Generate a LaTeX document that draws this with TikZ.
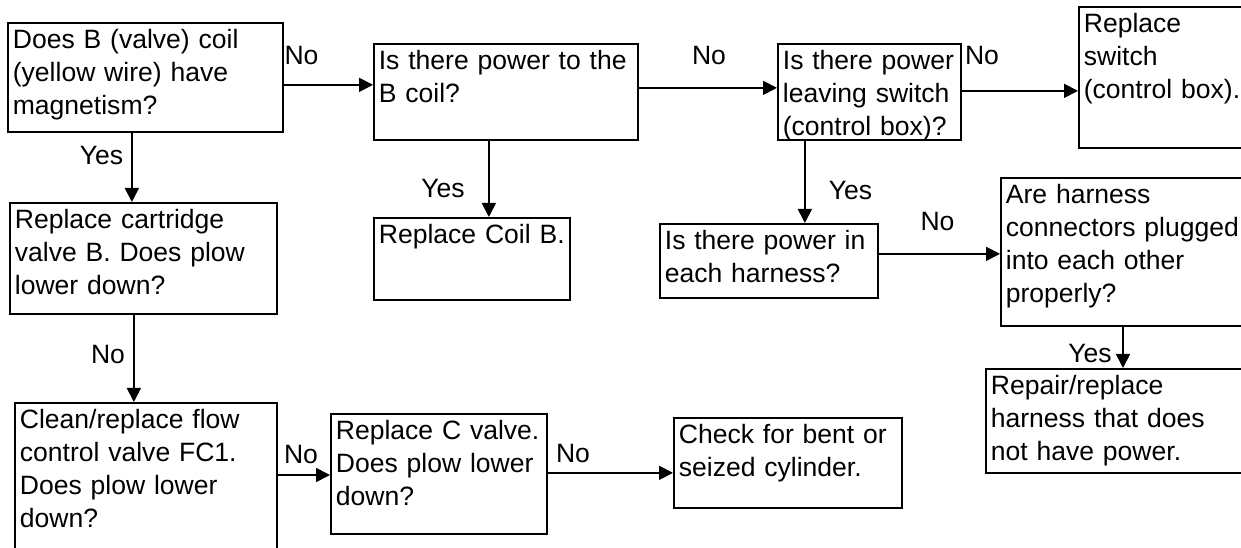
\documentclass[tikz,border=0pt]{standalone}
\usepackage{fontspec}
\setmainfont{Liberation Sans}
\usetikzlibrary{arrows.meta}

\newlength{\unitpx}
\setlength{\unitpx}{0.75pt}

\tikzset{
  qbox/.style 2 args={draw, anchor=north west, align=left,
    inner xsep=5\unitpx, inner ysep=0pt, text height=26\unitpx,
    text width=\dimexpr#1\unitpx-10\unitpx\relax,
    text depth=\dimexpr#2\unitpx-26\unitpx\relax},
  answer/.style={inner sep=0pt},
  flow/.style={-{Triangle[length=10.5pt,width=10.5pt]}}
}

\begin{document}
\begin{tikzpicture}[x=0.75pt, y=-0.75pt, line width=1.3pt,
    font=\fontsize{19.9pt}{24.75pt}\selectfont]

  \useasboundingbox (0,0) rectangle (1241,548);

  % boxes (pixel coordinates, y grows downwards)
  \node[qbox={275}{109}] (magnet) at (7,22)
    {Does B (valve) coil\\(yellow wire) have\\magnetism?};
  \node[qbox={264}{96}] (coilpower) at (373,43)
    {Is there power to the\\B coil?};
  \node[qbox={183}{96}] (switchout) at (777,43)
    {Is there power\\leaving switch\\(control box)?};
  \node[qbox={172}{141}] (repswitch) at (1078,6)
    {Replace\\switch\\(control box).};
  \node[qbox={267}{111}] (cartridge) at (9,202)
    {Replace cartridge\\valve B. Does plow\\lower down?};
  \node[qbox={196}{82}] (repcoil) at (373,217)
    {Replace Coil B.};
  \node[qbox={218}{74}] (harnesspow) at (659,223)
    {Is there power in\\each harness?};
  \node[qbox={250}{148}] (plugged) at (1000,177)
    {Are harness\\connectors plugged\\into each other\\properly?};
  \node[qbox={265}{104}] (repharness) at (985,368)
    {Repair/replace\\harness that does\\not have power.};
  \node[qbox={262}{160}] (flowvalve) at (14,402)
    {Clean/replace flow\\control valve FC1.\\Does plow lower\\down?};
  \node[qbox={216}{120}] (cvalve) at (330,413)
    {Replace C valve.\\Does plow lower\\down?};
  \node[qbox={228}{90}] (cylinder) at (673,417)
    {Check for bent or\\seized cylinder.};

  % connectors
  \draw[flow] ([yshift=-7.5\unitpx]magnet.east) -- ([yshift=-7.5\unitpx]magnet.east -| coilpower.west);
  \draw[flow] ([xshift=-13.5\unitpx]magnet.south) -- ([xshift=-13.5\unitpx]magnet.south |- cartridge.north);
  \draw[flow] ([yshift=4\unitpx]coilpower.east) -- ([yshift=4\unitpx]coilpower.east -| switchout.west);
  \draw[flow] ([xshift=-17\unitpx]coilpower.south) -- ([xshift=-17\unitpx]coilpower.south |- repcoil.north);
  \draw[flow] ([yshift=1\unitpx]switchout.east) -- ([yshift=1\unitpx]switchout.east -| repswitch.west);
  \draw[flow] ([xshift=-64.5\unitpx]switchout.south) -- ([xshift=-64.5\unitpx]switchout.south |- harnesspow.north);
  \draw[flow] ([yshift=7\unitpx]harnesspow.east) -- ([yshift=7\unitpx]harnesspow.east -| plugged.west);
  \draw[flow] ([xshift=123\unitpx]plugged.south west) -- ([xshift=123\unitpx]plugged.south west |- repharness.north);
  \draw[flow] ([xshift=-9.5\unitpx]cartridge.south) -- ([xshift=-9.5\unitpx]cartridge.south |- flowvalve.north);
  \draw[flow] ([yshift=-73\unitpx]flowvalve.north east) -- ([yshift=-73\unitpx]flowvalve.north east -| cvalve.west);
  \draw[flow] ([yshift=1\unitpx]cvalve.east) -- ([yshift=1\unitpx]cvalve.east -| cylinder.west);

  % answers on the connectors
  \foreach \name/\x/\y/\txt in {no-magnet/301.5/56/No, yes-magnet/101.5/156/Yes,
                                no-coil/709/56/No, yes-coil/443/189/Yes,
                                no-switch/982/56/No, yes-switch/850.5/191/Yes,
                                no-harness/937.5/222/No, yes-plugged/1090/354/Yes,
                                no-cartridge/108/355/No, no-flow/301/455/No,
                                no-cvalve/573/454/No} {
    \node[answer] (\name) at (\x,\y) {\txt};
  }

\end{tikzpicture}
\end{document}
